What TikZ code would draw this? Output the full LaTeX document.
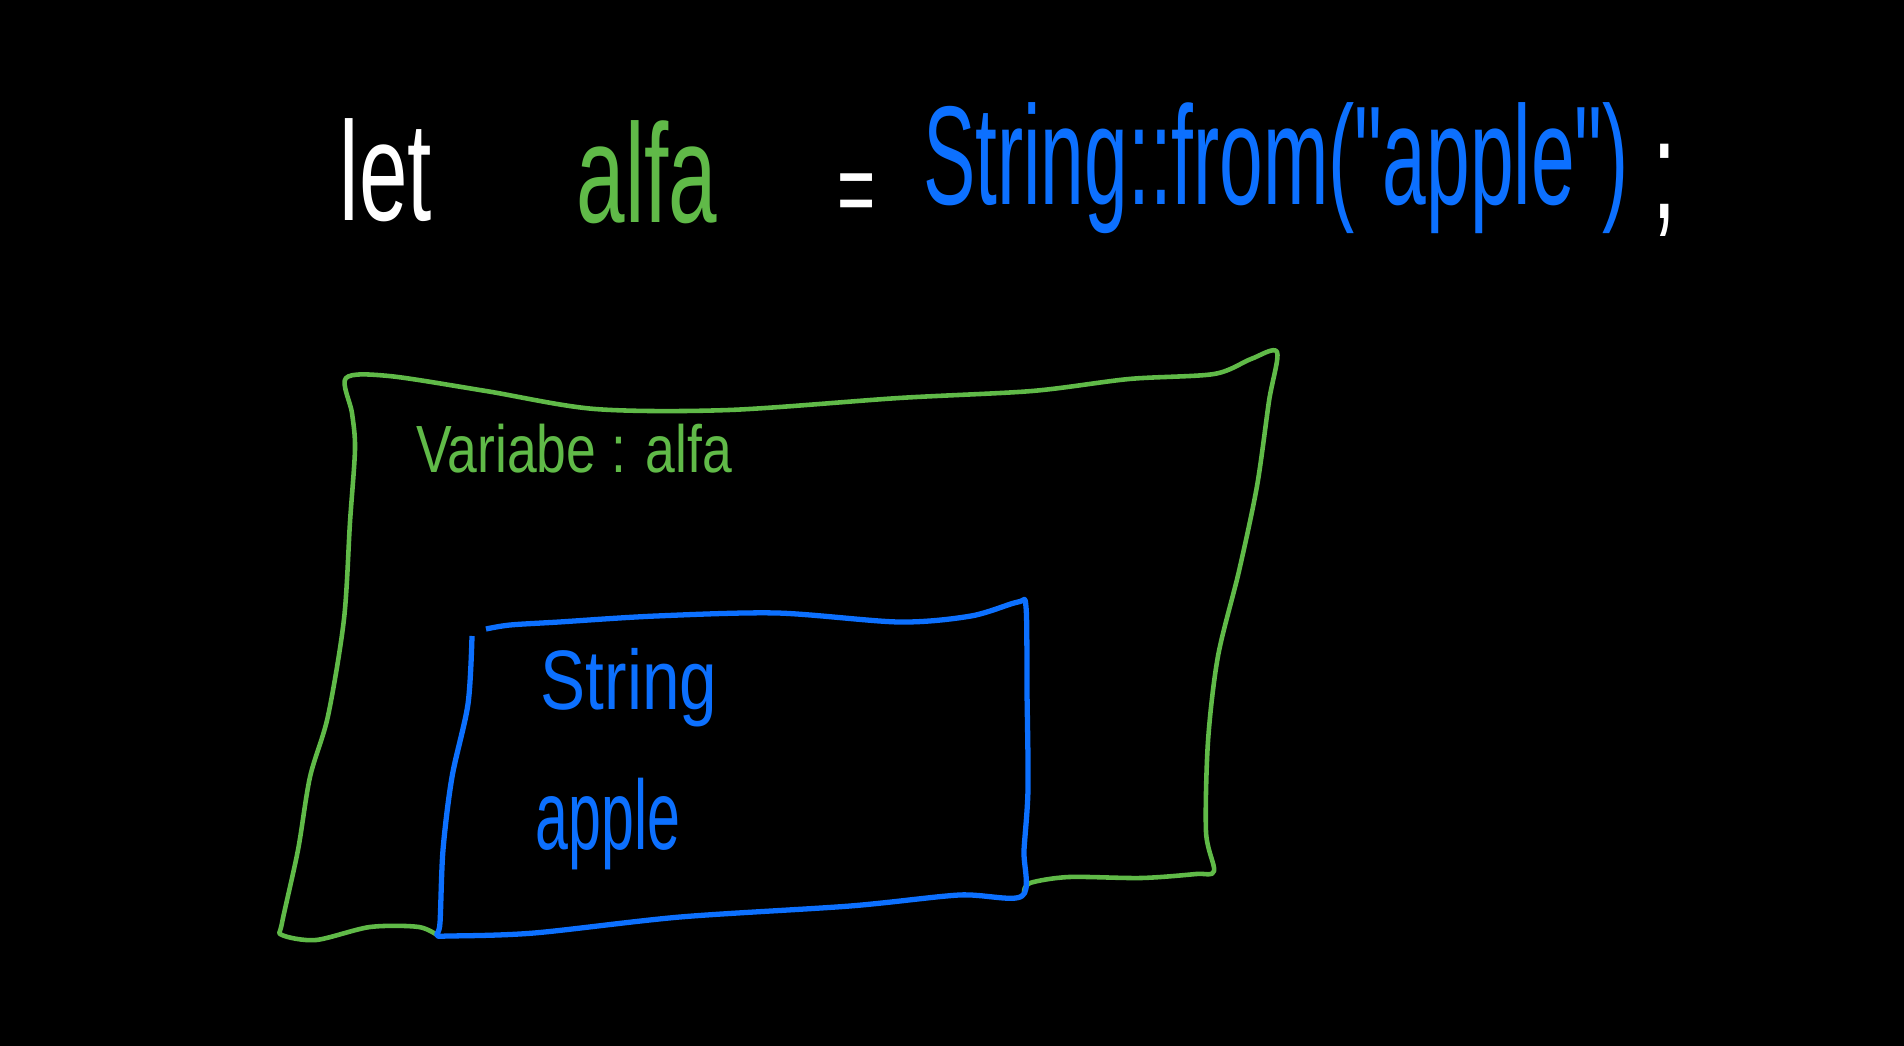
\documentclass[tikz,border=0pt]{standalone}
\usepackage{fontspec}
\setmainfont{Liberation Sans}
\usepackage{tikz}

\definecolor{penwhite}{RGB}{255,255,255}
\definecolor{pengreen}{RGB}{96,186,72}
\definecolor{penblue}{RGB}{12,112,255}

\begin{document}
\begin{tikzpicture}[x=0.01cm, y=-0.01cm,
    code/.style={font=\fontsize{40}{48}\selectfont, inner sep=0pt, xscale=0.62, transform shape},
    label/.style={font=\fontsize{24}{28}\selectfont, inner sep=0pt, xscale=0.8, transform shape}]
% Background
\fill[black] (0,0) rectangle (1904,1046);
\useasboundingbox (0,0) rectangle (1904,1046);

% Code line
\node[code, text=penwhite] (let) at (386,170) {let};
\node[code, text=pengreen] (alfa) at (647,172) {alfa};
\node[code, text=penwhite, font=\fontsize{30}{36}\selectfont] (eq) at (857,200) {=};
\node[code, text=penblue, xscale=0.9] (rhs) at (1276,168) {String::from(\textquotedbl apple\textquotedbl)};
\node[code, text=penwhite] (semi) at (1665,190) {;};

% Variable box
\draw[pengreen, line width=1.3pt, line join=round] plot[smooth, tension=0.5] coordinates {
  (440,937) (419,927) (370,927) (316,940) (282,935) (282,923) (298,850) (310,777)
  (328,716) (344,619) (350,522) (355,449) (352,413) (346,378) (389,376) (486,391)
  (595,409) (729,410) (899,398) (1032,391) (1129,379) (1214,374) (1251,359) (1277,352)
  (1269,401) (1257,486) (1239,571) (1218,656) (1208,741) (1206,832) (1214,871)
  (1196,874) (1141,878) (1069,877) (1030,883) (1024,892)};
\node[label, text=pengreen, font=\fontsize{19}{23}\selectfont] (var) at (574,449) {Variabe : alfa};

% String box
\draw[penblue, line width=1.5pt, line join=round] plot[smooth, tension=0.5] coordinates {
  (472,636) (468,704) (452,777) (443,850) (440,923) (437,935) (449,936) (534,933)
  (680,917) (850,906) (959,895) (1022,896) (1024,850) (1028,789) (1027,692)
  (1026,607) (1018,602) (971,616) (899,622) (777,613) (656,616) (559,622) (510,625)
  (486,629)};
\node[label, text=penblue] (type) at (629,688) {String};
\node[label, text=penblue, font=\fontsize{28}{32}\selectfont, xscale=0.75] (value) at (608,824) {apple};
\end{tikzpicture}
\end{document}
